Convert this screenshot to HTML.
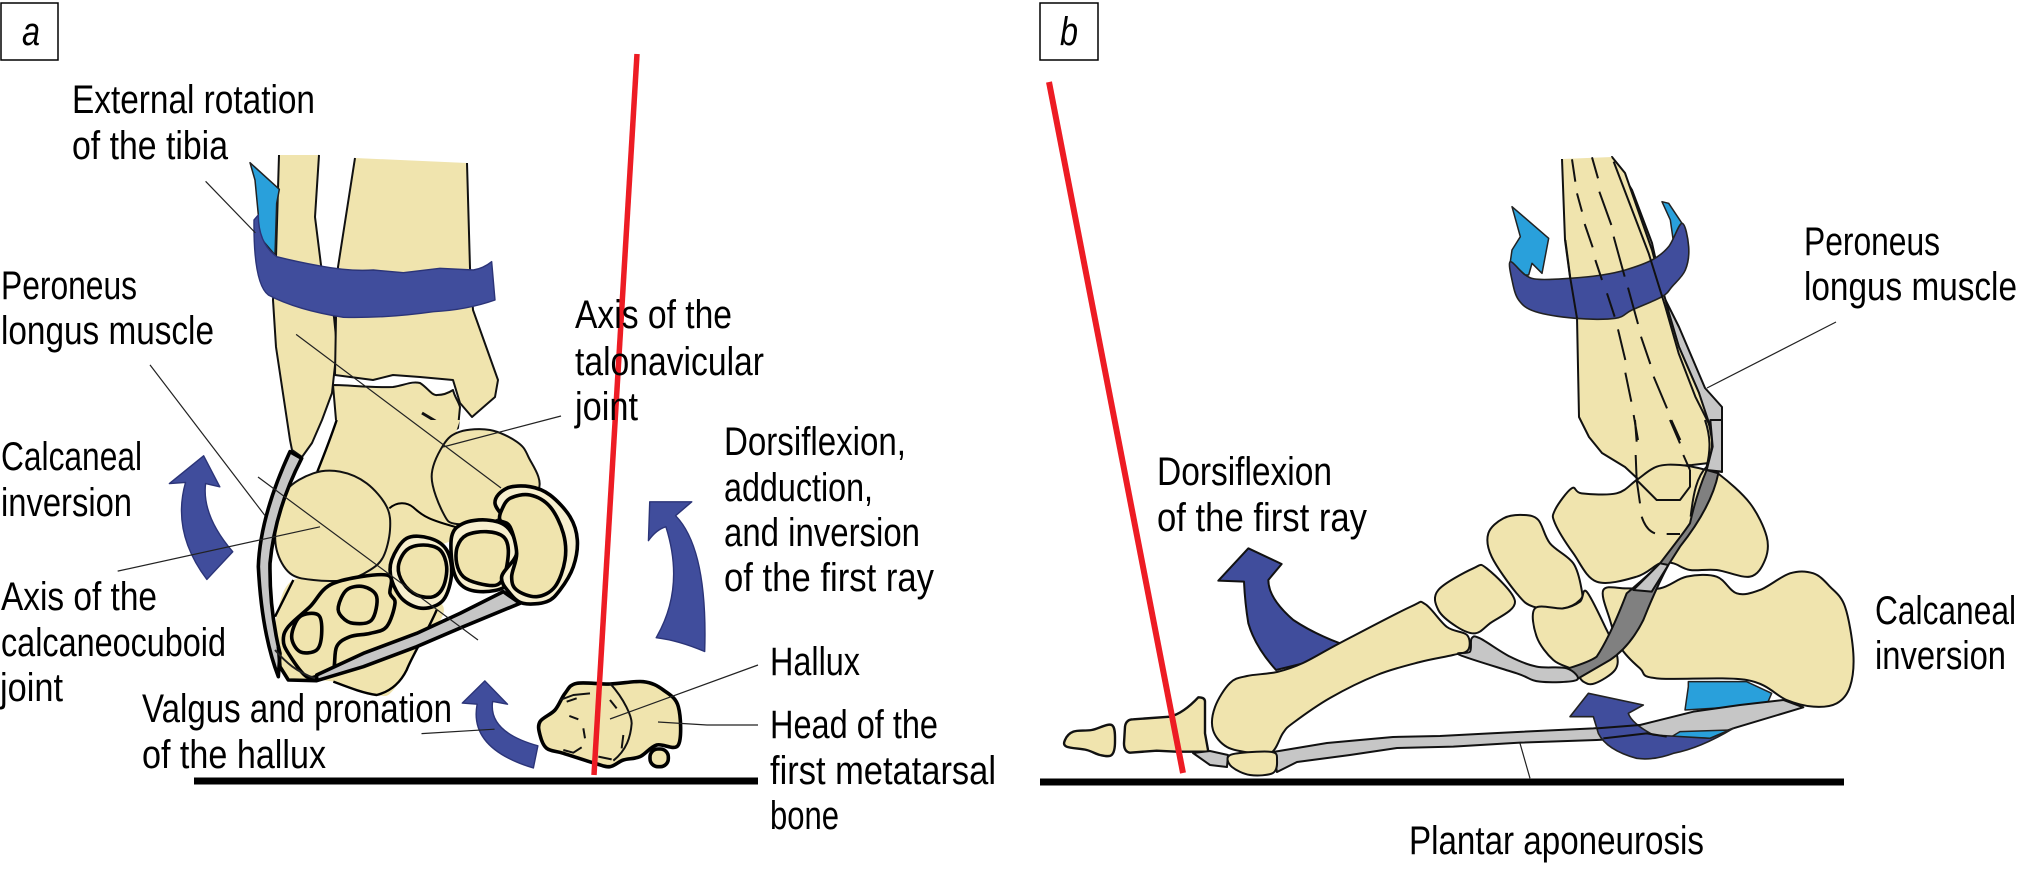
<!DOCTYPE html>
<html><head><meta charset="utf-8"><style>
html,body{margin:0;padding:0;background:#fff}
svg{display:block}
*{vector-effect:non-scaling-stroke}
.b{fill:#f0e4ae;stroke:#111;stroke-width:2;stroke-linejoin:round}
.n{fill:none;stroke:#111;stroke-width:2;stroke-linejoin:round}
.k{fill:none;stroke:#000;stroke-width:3.6;stroke-linejoin:round}
.g{fill:#c6c6c6;stroke:#111;stroke-width:2;stroke-linejoin:round}
.gk{fill:#c6c6c6;stroke:#000;stroke-width:3.6;stroke-linejoin:round}
.d{fill:#808080;stroke:#111;stroke-width:2;stroke-linejoin:round}
.a{fill:#404d9c;stroke:#2b3478;stroke-width:1.4;stroke-linejoin:round}
.c{fill:#29a0db;stroke:#222;stroke-width:1.5;stroke-linejoin:round}
.l{stroke:#222;stroke-width:1.2;fill:none}
text{font-family:"Liberation Sans",sans-serif;font-size:40px;fill:#000}
</style></head><body>
<svg xmlns="http://www.w3.org/2000/svg" width="2020" height="870" viewBox="0 0 2020 870">
<rect width="2020" height="870" fill="#fff"/>

<!-- panel a: upper bones (real coordinates) -->
<polyline class="b" points="279,155 276,257 273,300 276,347 290,440 292,450 302,457 312,443 322,420 332,393 337,347 334,317 321,265 315,217 319,155"/>
<polyline class="b" points="467,163 470,268 473,310 498,380 495,397 472,417 460,403 453,380 420,377 393,375 373,380 335,375 336,317 338,267 355,158"/>
<polygon class="b" style="stroke:none" points="333,385 357,385 393,387 420,383 437,395 453,390 460,407 458,428 440,440 340,440 336,420"/>
<path class="n" d="M333,385 C350,385 370,388 393,387 C405,385 412,381 420,383 C428,388 432,396 437,395 C445,395 450,392 453,390 C455,398 458,400 460,407 L458,428 L450,433 M333,385 L336,420"/>
<path class="n" style="stroke-width:3" d="M422,413 L437,422"/>
<g transform="translate(240,140) scale(.33333)">
<polygon class="c" points="30,68 118,148 110,190 105,345 50,280 55,225 45,120"/>
<path class="a" d="M42,240 L55,225 Q55,310 110,350 Q170,365 240,378 Q330,395 400,390 L490,398 L600,385 L700,390 Q730,385 755,365 L765,480 Q680,510 580,515 Q440,535 310,532 Q170,510 85,465 Q40,430 42,240 Z"/>
</g>

<!-- panel a: foot detail -->
<g transform="translate(230,420) scale(.33333)">
<polygon class="b" style="stroke:none" points="262,155 320,0 690,0 680,30 690,320 480,470 300,500 140,400 160,250"/>
<polygon class="s b" style="stroke:none" points="190,480 350,480 480,465 640,560 560,690 490,810 440,825 310,785 170,770 140,680 140,590"/>
<path class="k" style="stroke-width:2.4" d="M320,0 C300,60 280,110 262,155 M190,480 L135,590 M620,570 C590,640 550,700 530,750 C510,790 480,815 440,825 C400,820 350,800 310,785"/>
<polygon class="s b" points="640,75 690,35 780,30 860,65 895,110 925,210 800,300 680,312 640,280 605,170"/>
<polygon class="s b" style="stroke:none" points="480,270 510,245 550,260 600,300 680,320 670,360 495,400"/>
<path class="k" style="stroke-width:2" d="M478,265 C500,245 530,245 550,262 C580,290 600,300 680,322"/>
<polygon class="s b" points="140,300 170,210 250,160 330,155 410,190 470,260 480,330 460,410 420,450 350,480 250,480 180,460 140,390"/>
<polygon class="s k" style="fill:#f0e4ae" points="175,620 240,560 310,490 470,465 480,520 495,550 470,620 420,640 360,650 320,680 310,750 280,760 230,770 175,700 160,660"/>
<polygon class="s k" style="fill:#f0e4ae" points="185,650 210,590 265,585 275,640 260,690 210,695"/>
<polygon class="s k" style="fill:#f0e4ae" points="325,560 350,510 400,500 440,530 425,600 370,610 335,590"/>
<polygon class="s k" style="fill:#f7efcf" points="485,420 530,355 600,355 650,390 665,460 640,540 580,565 520,540 485,480"/>
<polygon class="s k" style="fill:#f0e4ae" points="505,440 530,390 580,375 630,390 650,440 640,500 610,530 560,525 520,490"/>
<polygon class="s k" style="fill:#f7efcf" points="665,350 700,310 770,300 830,320 860,380 850,450 825,500 760,515 700,500 670,450"/>
<polygon class="s k" style="fill:#f0e4ae" points="682,380 710,345 770,335 820,350 835,390 825,460 800,495 745,490 700,470 680,430"/>
<polygon class="gk" points="260,765 400,700 560,640 690,580 820,515 870,550 700,620 560,680 400,740 260,782"/>
<polygon class="s k" style="fill:#f7efcf" points="795,250 830,205 900,200 960,225 1020,290 1042,360 1030,440 990,510 950,545 880,550 840,520 815,470 860,400 840,320"/>
<polygon class="s k" style="fill:#f0e4ae" points="815,270 840,235 900,225 960,260 1000,340 1005,420 975,500 920,530 860,510 845,470 860,400 840,320 810,300"/>
<path class="gk" d="M180,95 L215,115 Q135,270 120,430 Q118,570 150,700 L145,770 Q95,640 85,440 Q90,290 180,95 Z"/>
<path class="k" d="M145,680 L150,740 L175,780 L260,782"/>
<path class="l" style="stroke-width:2" d="M135,690 C170,730 200,755 255,775"/>
</g>

<!-- panel a: arrows, label lines -->
<g transform="scale(.6465 .5545)">
<path class="a" d="M315,822 L340,878 L318,872 Q312,930 360,995 L320,1045 Q265,960 287,870 L262,872 Z"/>
<path class="a" d="M1003,975 L1005,905 L1070,905 L1045,930 Q1095,990 1090,1175 Q1050,1155 1015,1150 Q1060,1060 1030,950 Q1015,955 1003,975 Z"/>
<path class="a" d="M750,1228 L785,1270 L762,1265 Q755,1320 832,1345 L825,1385 Q725,1350 738,1270 L715,1268 Z"/>
<g class="l">
<line x1="318" y1="327" x2="395" y2="420"/>
<line x1="232" y1="658" x2="410" y2="930"/>
<line x1="458" y1="603" x2="775" y2="880"/>
<line x1="182" y1="1030" x2="495" y2="950"/>
<line x1="652" y1="1323" x2="765" y2="1315"/>
</g>
</g>
<g class="l">
<line x1="561" y1="416" x2="443" y2="447"/>
<line x1="258" y1="477" x2="478" y2="640"/>
</g>

<!-- hallux -->
<g transform="translate(530,660) scale(.33333)">
<polygon class="s k" style="fill:#f0e4ae" points="30,185 75,150 105,100 140,70 240,72 340,65 400,90 445,140 445,255 380,255 330,290 280,300 240,320 195,310 100,280 50,265 30,225"/>
<rect class="k" style="fill:#f0e4ae" x="360" y="267" width="55" height="53" rx="24"/>
<path class="n" d="M240,70 C285,120 305,170 305,190 C302,230 290,270 250,302 M90,120 L130,105 L180,100 M110,125 L140,115 M240,120 L260,145 M118,168 L145,178 M160,205 L165,235 M280,225 L275,265 M100,270 L130,278 L155,262 M205,290 L245,298"/>
</g>
<path class="l" d="M610,719 L758,665 M658,722 L707,725 L758,725"/>

<line x1="194" y1="781" x2="758" y2="781" stroke="#000" stroke-width="7"/>
<line x1="637" y1="54" x2="594" y2="775" stroke="#ed1c24" stroke-width="5.5"/>

<rect x="1" y="3" width="57" height="57" fill="none" stroke="#000" stroke-width="1.5"/>
<text x="22" y="45" style="font-style:italic" textLength="18" lengthAdjust="spacingAndGlyphs">a</text>
<rect x="1040" y="3" width="58" height="57" fill="none" stroke="#000" stroke-width="1.5"/>
<text x="1060" y="45" style="font-style:italic" textLength="18" lengthAdjust="spacingAndGlyphs">b</text>

<g>
<text x="72" y="113" textLength="243" lengthAdjust="spacingAndGlyphs">External rotation</text>
<text x="72" y="159" textLength="156" lengthAdjust="spacingAndGlyphs">of the tibia</text>
<text x="1" y="299" textLength="136" lengthAdjust="spacingAndGlyphs">Peroneus</text>
<text x="1" y="344" textLength="213" lengthAdjust="spacingAndGlyphs">longus muscle</text>
<text x="1" y="470" textLength="141" lengthAdjust="spacingAndGlyphs">Calcaneal</text>
<text x="1" y="516" textLength="131" lengthAdjust="spacingAndGlyphs">inversion</text>
<text x="1" y="610" textLength="156" lengthAdjust="spacingAndGlyphs">Axis of the</text>
<text x="1" y="656" textLength="225" lengthAdjust="spacingAndGlyphs">calcaneocuboid</text>
<text x="0" y="701" textLength="63" lengthAdjust="spacingAndGlyphs">joint</text>
<text x="142" y="722" textLength="310" lengthAdjust="spacingAndGlyphs">Valgus and pronation</text>
<text x="142" y="768" textLength="184" lengthAdjust="spacingAndGlyphs">of the hallux</text>
<text x="575" y="328" textLength="157" lengthAdjust="spacingAndGlyphs">Axis of the</text>
<text x="575" y="375" textLength="189" lengthAdjust="spacingAndGlyphs">talonavicular</text>
<text x="575" y="420" textLength="63" lengthAdjust="spacingAndGlyphs">joint</text>
<text x="724" y="455" textLength="182" lengthAdjust="spacingAndGlyphs">Dorsiflexion,</text>
<text x="724" y="501" textLength="149" lengthAdjust="spacingAndGlyphs">adduction,</text>
<text x="724" y="546" textLength="196" lengthAdjust="spacingAndGlyphs">and inversion</text>
<text x="724" y="591" textLength="210" lengthAdjust="spacingAndGlyphs">of the first ray</text>
<text x="770" y="675" textLength="90" lengthAdjust="spacingAndGlyphs">Hallux</text>
<text x="770" y="738" textLength="168" lengthAdjust="spacingAndGlyphs">Head of the</text>
<text x="770" y="784" textLength="226" lengthAdjust="spacingAndGlyphs">first metatarsal</text>
<text x="770" y="829" textLength="69" lengthAdjust="spacingAndGlyphs">bone</text>
<text x="1804" y="255" textLength="136" lengthAdjust="spacingAndGlyphs">Peroneus</text>
<text x="1804" y="300" textLength="213" lengthAdjust="spacingAndGlyphs">longus muscle</text>
<text x="1157" y="485" textLength="175" lengthAdjust="spacingAndGlyphs">Dorsiflexion</text>
<text x="1157" y="531" textLength="210" lengthAdjust="spacingAndGlyphs">of the first ray</text>
<text x="1875" y="624" textLength="141" lengthAdjust="spacingAndGlyphs">Calcaneal</text>
<text x="1875" y="669" textLength="131" lengthAdjust="spacingAndGlyphs">inversion</text>
<text x="1409" y="854" textLength="295" lengthAdjust="spacingAndGlyphs">Plantar aponeurosis</text>
</g>

<!-- panel b: leg -->
<g transform="translate(2,0)">
<polygon class="g" points="1610,157 1630,190 1650,243 1662,297 1677,327 1703,388 1720,407 1720,472 1707,470 1697,393 1677,347"/>
<polyline class="b" points="1610,157 1623,173 1630,193 1650,250 1667,313 1677,347 1697,393 1707,423 1710,440 1710,447 1707,463 1690,465 1657,467 1637,480 1623,467 1600,453 1587,437 1577,417 1575,317 1568,277 1563,240 1560,159"/>
<g transform="translate(1490,140) scale(.33333)">
<polygon class="c" points="60,200 170,295 150,400 120,370 110,405 100,405 55,365 60,330 85,290"/>
<polygon class="c" points="510,185 530,190 570,250 545,310 535,240"/>
<polygon class="s a" style="stroke:#222;stroke-width:1.6" points="55,365 100,405 140,418 235,415 330,405 400,390 480,360 530,320 570,250 590,320 580,390 540,440 510,470 420,510 370,535 250,535 130,515 80,480 60,420"/>
<path class="n" d="M220,300 L235,415 L255,535 M365,65 L405,170 L470,340 L520,500 L560,640 L610,770 L650,850 L665,900"/>
<path class="n" d="M240,58 L250,125 M255,160 L270,215 M278,252 L302,322 M310,360 L330,420 M345,460 L368,530 M378,568 L400,660 M400,698 L418,785 M425,825 L438,900 M300,52 L318,115 M322,155 L358,255 M365,290 L398,410 M408,443 L438,552 M447,590 L475,672 M485,710 L525,805 M538,840 L565,900"/>
</g>
</g>
<line class="l" x1="1707" y1="388" x2="1836" y2="322"/>

<!-- panel b: first-ray arrow and forefoot -->
<g transform="translate(1170,530) scale(.33333)">
<path class="a" style="stroke:#111;stroke-width:2" d="M235,55 L335,102 L295,150 Q295,205 370,270 Q430,310 510,340 L400,400 L318,420 Q255,350 235,280 Q225,220 222,155 L145,152 Z"/>
</g>
<line x1="1040" y1="782" x2="1844" y2="782" stroke="#000" stroke-width="7"/>
<g transform="translate(1050,620) scale(.33333)">
<polygon class="s b" style="stroke-width:2.4" points="45,360 70,335 125,330 185,315 195,365 185,405 150,405 110,390 50,380"/>
<path class="b" style="stroke-width:2.4" d="M225,320 Q228,298 250,298 L360,290 Q400,280 445,232 Q465,232 465,245 L465,340 L475,395 L380,395 L320,392 L240,398 Q222,395 222,370 Z"/>
</g>
<polygon class="g" points="1193,753 1210,751 1228,755 1227,767 1210,765"/>
<polygon class="s b" points="1215,707 1230,683 1247,676 1277,672 1303,663 1340,643 1410,607 1425,604 1447,627 1467,635 1468,650 1453,655 1420,662 1377,675 1330,698 1293,723 1283,733 1272,752 1253,753 1227,747 1213,730"/>
<line x1="1049" y1="82" x2="1183" y2="773" stroke="#ed1c24" stroke-width="6"/>

<!-- panel b: hindfoot detail -->
<g transform="translate(1440,420) scale(.33333)">
<polygon class="s b" points="345,270 395,205 425,220 530,220 590,180 650,140 720,135 800,150 840,165 930,250 980,350 975,420 930,470 830,450 750,450 700,430 660,430 590,470 470,485 400,400 345,310"/>
<path class="n" d="M590,180 L650,240 L720,240 L750,200 L750,150"/>
<polygon class="s b" points="145,340 190,295 250,285 295,300 330,370 400,430 425,510 420,540 370,565 280,560 230,520 155,410"/>
<polygon class="s b" points="285,565 370,565 420,545 440,515 500,630 530,700 525,750 465,790 430,785 400,750 340,720 290,650"/>
<polygon class="s b" points="-5,510 100,445 140,445 225,545 150,610 105,640 50,620 -5,570"/>
<polygon class="s b" points="490,510 560,505 660,505 740,470 830,470 890,520 960,510 1050,460 1120,460 1170,500 1215,560 1240,700 1230,800 1190,850 1120,860 1040,840 920,780 650,775 600,745 540,680 510,600"/>
<path class="n" d="M585,0 L590,65 M587,105 L590,180 L600,250 M605,290 C615,320 630,335 645,340 M680,342 L720,342 M690,0 L720,70 M730,105 L750,150"/>
<path class="n" d="M795,0 C812,50 812,90 800,140 C770,170 760,220 752,290"/>
<polygon class="g" points="811,0 846,0 846,155 800,150 818,80"/>
<path class="d" d="M800,150 L835,160 Q815,260 720,380 L685,435 Q650,500 610,600 Q570,680 510,720 L415,775 L385,745 Q450,725 470,710 Q510,650 560,520 Q620,470 660,430 Q730,340 750,310 Q770,220 800,150 Z"/>
<polygon class="g" points="580,510 660,430 685,435 635,515"/>
<polygon class="s g" points="95,655 120,655 210,710 290,740 380,745 410,780 300,785 230,760 60,705 90,695"/>
<polygon class="c" points="745,785 920,785 995,820 980,855 735,870 745,800"/>
<polygon class="g" points="-501,996 -339,969 -141,951 0,948 150,940 460,925 600,915 760,875 900,855 1030,840 1090,862 880,925 800,955 650,950 470,960 240,968 40,980 -129,984 -270,1005 -429,1026 -489,1056"/>
<polygon class="c" points="695,950 720,935 870,930 810,955"/>
<path class="a" style="stroke:#222;stroke-width:1.6" d="M445,820 L610,855 L565,880 Q575,910 640,945 L810,955 L880,925 Q780,985 700,1000 Q640,1022 590,1015 Q500,990 475,940 L460,890 L390,890 Z"/>
<path class="n" d="M470,925 L600,915 M490,955 L620,940 L680,950"/>
<line class="l" x1="240" y1="970" x2="270" y2="1075"/>
</g>
<polygon class="s b" points="1228,757 1240,753 1272,752 1277,760 1273,773 1250,775 1232,767"/>
</svg>
<script>
document.querySelectorAll('polygon.s').forEach(function(p){
var a=p.getAttribute('points').trim().split(/\s+/).map(function(q){return q.split(',').map(Number)}),n=a.length,d='M'+a[0];
for(var i=0;i<n;i++){var p0=a[(i+n-1)%n],p1=a[i],p2=a[(i+1)%n],p3=a[(i+2)%n];
d+=' C'+(p1[0]+(p2[0]-p0[0])/6)+','+(p1[1]+(p2[1]-p0[1])/6)+' '+(p2[0]-(p3[0]-p1[0])/6)+','+(p2[1]-(p3[1]-p1[1])/6)+' '+p2[0]+','+p2[1];}
var e=document.createElementNS('http://www.w3.org/2000/svg','path');
e.setAttribute('d',d+'Z');e.setAttribute('class',p.getAttribute('class'));
if(p.getAttribute('style'))e.setAttribute('style',p.getAttribute('style'));
p.parentNode.replaceChild(e,p);});
</script>
</body></html>
